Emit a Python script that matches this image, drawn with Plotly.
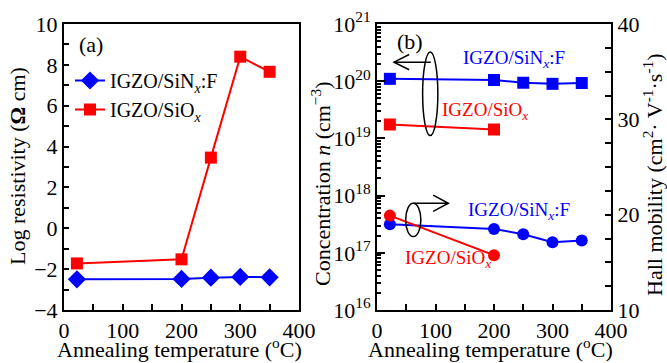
import plotly.graph_objects as go

# ---- data ----
temp_a = [22, 200, 250, 300, 350]
res_sinx = [-2.5, -2.48, -2.42, -2.38, -2.4]
res_siox = [-1.72, -1.52, 3.46, 8.4, 7.66]

temp_b_sinx = [22, 200, 250, 300, 350]
temp_b_siox = [22, 200]
conc_sinx = [1.1e20, 1.05e20, 9.4e19, 9.0e19, 9.3e19]
conc_siox = [1.75e19, 1.43e19]
mob_sinx = [19.0, 18.5, 17.95, 17.1, 17.3]
mob_siox = [19.9, 15.75]

x_ticks = [0, 100, 200, 300, 400]
log_ticks = [1e16, 1e17, 1e18, 1e19, 1e20, 1e21]
log_ticktext = ["10<sup>16</sup>", "10<sup>17</sup>", "10<sup>18</sup>",
                "10<sup>19</sup>", "10<sup>20</sup>", "10<sup>21</sup>"]

BLUE = "#0000ff"
RED = "#ff0000"
FONT = "Liberation Serif"
W, H = 667, 363

fig = go.Figure()

# panel (a)
fig.add_trace(go.Scatter(x=temp_a, y=res_sinx, mode="lines+markers",
                         name="IGZO/SiN<sub><i>x</i></sub>:F",
                         line=dict(color=BLUE, width=2),
                         marker=dict(symbol="diamond", size=14, color=BLUE),
                         xaxis="x", yaxis="y"))
fig.add_trace(go.Scatter(x=temp_a, y=res_siox, mode="lines+markers",
                         name="IGZO/SiO<sub><i>x</i></sub>",
                         line=dict(color=RED, width=2),
                         marker=dict(symbol="square", size=12, color=RED),
                         xaxis="x", yaxis="y"))

# panel (b) concentration
fig.add_trace(go.Scatter(x=temp_b_sinx, y=conc_sinx, mode="lines+markers",
                         showlegend=False,
                         line=dict(color=BLUE, width=2),
                         marker=dict(symbol="square", size=12, color=BLUE),
                         xaxis="x2", yaxis="y2"))
fig.add_trace(go.Scatter(x=temp_b_siox, y=conc_siox, mode="lines+markers",
                         showlegend=False,
                         line=dict(color=RED, width=2),
                         marker=dict(symbol="square", size=12, color=RED),
                         xaxis="x2", yaxis="y2"))
# panel (b) mobility
fig.add_trace(go.Scatter(x=temp_b_sinx, y=mob_sinx, mode="lines+markers",
                         showlegend=False,
                         line=dict(color=BLUE, width=2),
                         marker=dict(symbol="circle", size=12, color=BLUE),
                         xaxis="x2", yaxis="y3"))
fig.add_trace(go.Scatter(x=temp_b_siox, y=mob_siox, mode="lines+markers",
                         showlegend=False,
                         line=dict(color=RED, width=2),
                         marker=dict(symbol="circle", size=12, color=RED),
                         xaxis="x2", yaxis="y3"))

axis_common = dict(showline=True, linecolor="black", linewidth=2, mirror=True,
                   showgrid=False, zeroline=False, ticks="inside",
                   tickcolor="black", tickwidth=1.5,
                   tickfont=dict(family=FONT, size=22, color="black"))

YDOM = [1 - 310 / H, 1 - 24 / H]

fig.update_layout(
    width=W, height=H,
    margin=dict(l=0, r=0, t=0, b=0, autoexpand=False),
    plot_bgcolor="white", paper_bgcolor="white",
    font=dict(family=FONT, color="black"),
    xaxis=dict(domain=[64 / W, 299 / W], range=[0, 400], anchor="y",
               tickvals=x_ticks, ticklen=6,
               minor=dict(dtick=50, ticks="inside", ticklen=6, tickcolor="black"),
               **axis_common),
    yaxis=dict(domain=YDOM, range=[-4, 10], anchor="x",
               dtick=2, ticklen=5,
               minor=dict(dtick=1, ticks="inside", ticklen=5, tickcolor="black"),
               **axis_common),
    xaxis2=dict(domain=[377 / W, 611 / W], range=[0, 400], anchor="y2",
                tickvals=x_ticks, ticklen=6,
                minor=dict(dtick=50, ticks="inside", ticklen=6, tickcolor="black"),
                **axis_common),
    yaxis2=dict(domain=YDOM, type="log", range=[16, 21], anchor="x2",
                tickvals=log_ticks, ticktext=log_ticktext, ticklen=8,
                minor=dict(dtick="D1", ticks="inside", ticklen=4, tickcolor="black"),
                **axis_common),
    yaxis3=dict(domain=YDOM, range=[10, 40], anchor="x2",
                overlaying="y2", side="right",
                dtick=10, ticklen=6,
                minor=dict(dtick=2.5, ticks="inside", ticklen=6, tickcolor="black"),
                showline=True, linecolor="black", linewidth=2,
                showgrid=False, zeroline=False, ticks="inside",
                tickcolor="black", tickwidth=1.5,
                tickfont=dict(family=FONT, size=22, color="black")),
    legend=dict(x=70 / W, y=1 - 61 / H, xanchor="left", yanchor="top",
                bgcolor="rgba(0,0,0,0)", font=dict(family=FONT, size=20, color="black"),
                itemwidth=30, tracegroupgap=0),
)

TITLE_FONT = dict(family=FONT, size=22, color="black")
# axis titles (as paper annotations for exact placement)
def title(text, x, y, angle=0):
    fig.add_annotation(text=text, xref="paper", yref="paper", x=x / W, y=1 - y / H,
                       xanchor="center", yanchor="middle", textangle=angle,
                       showarrow=False, font=TITLE_FONT)

title("Annealing temperature (<sup>o</sup>C)", 179, 348)
title("Annealing temperature (<sup>o</sup>C)", 490, 348)
title("Log resistivity (<b>Ω</b> cm)", 18, 166, -90)
title("Concentration <i>n</i> (cm<sup>−3</sup>)", 321, 184, -90)
title("Hall mobility (cm<sup>2</sup>· V<sup>-1</sup>·s<sup>-1</sup>)", 653, 175, -90)

# panel labels
fig.add_annotation(text="(a)", xref="x", yref="y", x=22, y=9.0, xanchor="left",
                   showarrow=False, font=dict(family=FONT, size=22, color="black"))
fig.add_annotation(text="(b)", xref="x2", yref="y3", x=30, y=38.2, xanchor="left",
                   showarrow=False, font=dict(family=FONT, size=22, color="black"))

# series labels in panel (b)
fig.add_annotation(text="IGZO/SiN<sub><i>x</i></sub>:F", xref="x2", yref="y3",
                   x=143, y=36.3, xanchor="left", showarrow=False,
                   font=dict(family=FONT, size=19, color=BLUE))
fig.add_annotation(text="IGZO/SiO<sub><i>x</i></sub>", xref="x2", yref="y3",
                   x=108, y=30.9, xanchor="left", showarrow=False,
                   font=dict(family=FONT, size=19, color=RED))
fig.add_annotation(text="IGZO/SiN<sub><i>x</i></sub>:F", xref="x2", yref="y3",
                   x=152, y=20.4, xanchor="left", showarrow=False,
                   font=dict(family=FONT, size=19, color=BLUE))
fig.add_annotation(text="IGZO/SiO<sub><i>x</i></sub>", xref="x2", yref="y3",
                   x=44, y=15.4, xanchor="left", showarrow=False,
                   font=dict(family=FONT, size=19, color=RED))

# ellipses and arrows
shape_line = dict(color="black", width=1.5)
fig.add_shape(type="circle", xref="x2", yref="y3", x0=78, x1=104, y0=28.3, y1=37.05,
              line=shape_line)
fig.add_shape(type="path", xref="x2", yref="y3",
              path="M 92,36.0 L 29,36.0 M 55,36.8 L 29,36.0 L 55,35.2",
              line=shape_line)
fig.add_shape(type="circle", xref="x2", yref="y3", x0=49, x1=75, y0=17.7, y1=21.2,
              line=shape_line)
fig.add_shape(type="path", xref="x2", yref="y3",
              path="M 63,21.2 L 122,21.2 M 96,22.05 L 122,21.2 L 96,20.35",
              line=shape_line)

fig.write_html("out.html", config={"displayModeBar": False},
               post_script="document.body.style.margin='0';document.body.style.overflow='hidden';")
